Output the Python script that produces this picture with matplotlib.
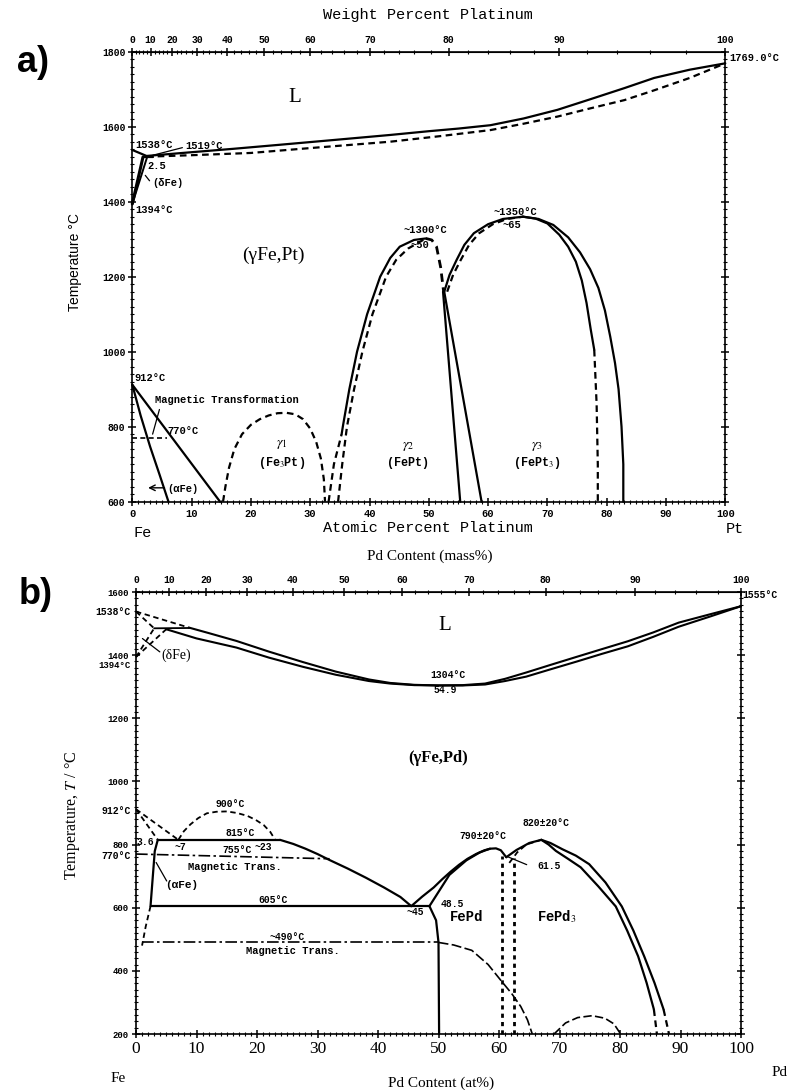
import numpy as np
import matplotlib.pyplot as plt
from matplotlib.ticker import MultipleLocator

plt.rcParams['mathtext.fontset'] = 'stix'

M_FE, M_PT, M_PD = 55.845, 195.08, 106.42

# ---------------- a) Fe-Pt ----------------
a_liq_x = [0, 2.4, 10, 17, 25, 35, 43.5, 50, 55, 60.4, 66, 71.7, 77, 83, 88, 94, 100]
a_liq_T = [1538, 1522, 1532, 1541, 1552, 1566, 1578, 1588, 1595, 1604, 1622, 1645, 1672, 1703, 1730, 1752, 1769]
a_sol_x = [2.4, 10, 20, 30, 43.5, 52, 60.4, 66, 71.7, 77, 83, 88, 94, 100]
a_sol_T = [1520, 1524, 1530, 1543, 1560, 1575, 1591, 1608, 1627, 1648, 1671, 1697, 1730, 1769]
a_delta1_x = [0, 1.8]
a_delta1_T = [1394, 1519]
a_delta2_x = [0, 2.5]
a_delta2_T = [1394, 1519]
a_perit_x = [1.8, 3.5]
a_perit_T = [1519, 1519]

a_alpha1_x = [0, 1.4, 3.0, 4.6, 6.1]
a_alpha1_T = [912, 830, 747, 672, 600]
a_alpha2_x = [0, 14.8]
a_alpha2_T = [912, 600]
a_mag_x = [0, 5.8]
a_mag_T = [770, 770]

a_g1_x = [15.3, 15.7, 16.3, 17.2, 18.5, 20, 21.5, 23, 24.5, 26, 27.5, 28.8, 30, 31, 31.8, 32.3, 32.5]
a_g1_T = [600, 640, 690, 740, 780, 805, 820, 830, 836, 837, 833, 820, 795, 760, 715, 660, 600]

a_g2_low_x = [33.1, 34.0, 35.3]
a_g2_low_T = [600, 700, 780]
a_g2_out_x = [35.3, 35.5, 36.6, 37.9, 39.6, 41.8, 43.5, 45.1, 47.5, 49.5]
a_g2_out_T = [780, 800, 900, 1000, 1100, 1200, 1250, 1280, 1298, 1302]
a_g2_in_x = [34.7, 35.4, 36.2, 37.4, 38.8, 40.5, 42.8, 44.5, 46.5, 49.5]
a_g2_in_T = [600, 700, 800, 900, 1000, 1100, 1200, 1245, 1275, 1302]
a_g2_top_x = [49.5, 50.5, 51.3, 52.0, 52.5]
a_g2_top_T = [1302, 1298, 1280, 1225, 1160]
a_g2_right_x = [52.4, 55.3]
a_g2_right_T = [1160, 600]
a_g3_foot_x = [52.6, 58.9]
a_g3_foot_T = [1160, 600]

a_g3_left_x = [52.6, 53.5, 54.7, 56.0, 57.6, 60.0, 62.5, 65.9]
a_g3_left_T = [1160, 1205, 1245, 1285, 1316, 1340, 1354, 1360]
a_g3_leftd_x = [53.1, 54.1, 55.4, 56.8, 58.5, 60.8, 63.2, 65.9]
a_g3_leftd_T = [1160, 1205, 1245, 1285, 1316, 1340, 1354, 1360]
a_g3_out_x = [65.9, 68.5, 71.0, 73.5, 75.5, 77.2, 78.6, 79.7, 80.6, 81.4, 82.0, 82.5, 82.8, 82.8]
a_g3_out_T = [1360, 1354, 1338, 1305, 1265, 1220, 1170, 1110, 1040, 970, 900, 800, 700, 600]
a_g3_in_x = [65.9, 68.0, 70.0, 72.0, 73.5, 74.8, 75.8, 76.6, 77.3, 77.9]
a_g3_in_T = [1360, 1355, 1342, 1312, 1280, 1240, 1190, 1130, 1060, 1005]
a_g3_ind_x = [77.9, 78.3, 78.5, 78.5]
a_g3_ind_T = [1005, 860, 700, 600]

# ---------------- b) Fe-Pd ----------------
b_liq_x = [8.8, 12, 16.6, 22, 27.6, 33, 38.5, 42, 46, 50, 54, 57.7, 61, 64.5, 68.5, 72.9, 77, 81.3, 85.5, 89.7, 95, 100]
b_liq_T = [1487, 1470, 1445, 1411, 1378, 1348, 1323, 1312, 1306, 1304, 1305, 1310, 1325, 1345, 1369, 1395, 1419, 1444, 1472, 1503, 1530, 1555]
b_sol_x = [5.0, 10, 16.6, 22, 27.6, 33, 38.5, 42, 46, 50, 54, 57.7, 61, 64.5, 68.5, 72.9, 77, 81.3, 85.5, 89.7, 95, 100]
b_sol_T = [1482, 1453, 1424, 1392, 1363, 1338, 1318, 1310, 1305, 1304, 1304, 1307, 1318, 1332, 1355, 1380, 1404, 1428, 1458, 1490, 1523, 1555]
b_dliq_x = [0, 8.8]
b_dliq_T = [1538, 1487]
b_dsol_x = [0, 3.0]
b_dsol_T = [1538, 1485]
b_dg1_x = [0, 3.0]
b_dg1_T = [1394, 1485]
b_dg2_x = [0, 5.0]
b_dg2_T = [1394, 1482]
b_perit_x = [3.0, 8.8]
b_perit_T = [1485, 1486]

b_a1_x = [0, 3.6]
b_a1_T = [912, 815]
b_a2_x = [0, 7.0]
b_a2_T = [912, 815]
b_asolv_x = [3.6, 3.1, 2.4]
b_asolv_T = [815, 779, 605]
b_asolvd_x = [2.4, 1.6, 1.0]
b_asolvd_T = [605, 540, 480]
b_dome_x = [7.0, 7.9, 9.0, 10.3, 11.7, 13.3, 15.0, 16.7, 18.4, 19.8, 21.1, 22.2, 23.0]
b_dome_T = [815, 842, 864, 884, 899, 904, 905, 900, 891, 878, 862, 840, 815]
b_815_x = [3.6, 23.8]
b_815_T = [815, 815]
b_mag1_x = [0, 32]
b_mag1_T = [770, 755]
b_gam_x = [23.8, 26, 28, 30, 32, 35, 38, 41, 43.7, 45.5]
b_gam_T = [815, 802, 787, 770, 751, 724, 695, 664, 634, 605]
b_605_x = [2.4, 48.5]
b_605_T = [605, 605]
b_fepd_low_x = [48.5, 49.6, 50.0, 50.1]
b_fepd_low_T = [605, 560, 490, 200]
b_mag2_x = [1.0, 50.0]
b_mag2_T = [490, 490]
b_mag2c_x = [50.0, 52.5, 55.5, 58.2, 60.3, 62.1, 63.6, 64.7, 65.5]
b_mag2c_T = [490, 482, 465, 420, 370, 328, 287, 245, 200]
b_fepd_out_x = [45.5, 47.3, 49.2, 50.6, 52.0, 53.4, 54.8, 56.2, 57.6, 58.6, 59.5, 60.3, 61.2]
b_fepd_out_T = [605, 635, 664, 690, 714, 736, 755, 770, 782, 787, 788, 782, 760]
b_fepd_in_x = [48.5, 49.0, 50.1, 51.8, 54.6, 56.8, 58.5]
b_fepd_in_T = [605, 620, 653, 704, 750, 775, 787]
b_v1_x = [60.5, 60.5]
b_v1_T = [200, 765]
b_v2_x = [62.5, 62.5]
b_v2_T = [200, 758]
b_fepd3_ls_x = [61.2, 62.9, 65.0, 67.0]
b_fepd3_ls_T = [760, 783, 805, 815]
b_fepd3_ld_x = [61.7, 63.0, 64.5, 67.0]
b_fepd3_ld_T = [742, 775, 800, 815]
b_fepd3_out_x = [67.0, 68.5, 70.5, 72.7, 74.9, 77.6, 80.3, 82.2, 84.0, 85.7, 87.2]
b_fepd3_out_T = [815, 805, 785, 765, 738, 680, 604, 528, 446, 362, 278]
b_fepd3_outd_x = [87.2, 88.1]
b_fepd3_outd_T = [278, 200]
b_fepd3_in_x = [67.0, 68.2, 69.4, 71.4, 73.5, 76.4, 79.3, 81.2, 83.0, 84.4, 85.6]
b_fepd3_in_T = [815, 800, 780, 755, 728, 668, 604, 527, 446, 362, 278]
b_fepd3_ind_x = [85.6, 86.1]
b_fepd3_ind_T = [278, 200]
b_small_x = [69.1, 71, 73, 75.4, 77.5, 79, 80.1]
b_small_T = [200, 235, 252, 258, 250, 232, 200]

W, H = 788, 1090
MONO, SERIF, SANS = 'Liberation Mono', 'Liberation Serif', 'Liberation Sans'
DASH = (0, (3, 2))
DASHDOT = (0, (7, 2, 1.5, 2))
DOT = (0, (1.5, 1.5))


def fp(x, y):
    return x / W, 1 - y / H


def line(ax, x, y, ls='-', lw=1.6):
    ax.plot(x, y, color='k', ls=ls, lw=lw, clip_on=False,
            solid_capstyle='round', solid_joinstyle='round')


def txt(x, y, s, size=7.5, family=MONO, weight='bold', ha='center', **kw):
    fig.text(*fp(x, y), s, fontsize=size, family=family, fontweight=weight,
             ha=ha, va='center', **kw)


def at2wt(m):
    def f(a):
        a = np.clip(a, 0, 100)
        return 100 * a * m / (a * m + (100 - a) * M_FE)
    return f


def wt2at(m):
    def f(w):
        w = np.clip(w, 0, 100)
        return 100 * (w / m) / (w / m + (100 - w) / M_FE)
    return f


def style_axes(ax, m, lab_size, bot_font, bot_size):
    ax.set_xlim(0, 100)
    ax.xaxis.set_major_locator(MultipleLocator(10))
    ax.xaxis.set_minor_locator(MultipleLocator(1))
    ax.yaxis.set_major_locator(MultipleLocator(200))
    ax.yaxis.set_minor_locator(MultipleLocator(20))
    ax.tick_params(which='major', direction='inout', length=6, width=1.1,
                   left=True, right=True, bottom=True, top=False, pad=2)
    ax.tick_params(which='minor', direction='inout', length=3, width=0.8,
                   left=True, right=True, bottom=True, top=False)
    for lb in ax.get_yticklabels():
        lb.set_fontfamily(MONO)
        lb.set_fontsize(lab_size)
        lb.set_fontweight('bold')
    for lb in ax.get_xticklabels():
        lb.set_fontfamily(bot_font)
        lb.set_fontsize(bot_size)
        lb.set_fontweight('bold' if bot_font == MONO else 'normal')
    for sp in ax.spines.values():
        sp.set_linewidth(1.2)
    sec = ax.secondary_xaxis('top', functions=(at2wt(m), wt2at(m)))
    sec.set_xticks(np.arange(0, 101, 10))
    sec.xaxis.set_minor_locator(MultipleLocator(2))
    sec.tick_params(which='major', direction='inout', length=6, width=1.1, pad=2)
    sec.tick_params(which='minor', direction='inout', length=3, width=0.8)
    for lb in sec.get_xticklabels():
        lb.set_fontfamily(MONO)
        lb.set_fontsize(7)
        lb.set_fontweight('bold')
    return sec


fig = plt.figure(figsize=(7.88, 10.9), dpi=100)

# ---------- panel a ----------
axa = fig.add_axes([132.3 / W, 1 - 501.7 / H, 593 / W, 450 / H])
axa.set_ylim(600, 1800)
style_axes(axa, M_PT, 7, MONO, 7.5)

line(axa, a_liq_x, a_liq_T)
line(axa, a_sol_x, a_sol_T, DASH)
line(axa, a_delta1_x, a_delta1_T, lw=2.2)
line(axa, a_delta2_x, a_delta2_T, lw=1.4)
line(axa, a_perit_x, a_perit_T)
line(axa, a_alpha1_x, a_alpha1_T)
line(axa, a_alpha2_x, a_alpha2_T)
line(axa, a_mag_x, a_mag_T, DASH, 1.2)
line(axa, a_g1_x, a_g1_T, DASH)
line(axa, a_g2_low_x, a_g2_low_T, DASH)
line(axa, a_g2_out_x, a_g2_out_T)
line(axa, a_g2_in_x, a_g2_in_T, DASH)
line(axa, a_g2_top_x, a_g2_top_T, DASH, 2.0)
line(axa, a_g2_right_x, a_g2_right_T)
line(axa, a_g3_foot_x, a_g3_foot_T)
line(axa, a_g3_left_x, a_g3_left_T)
line(axa, a_g3_leftd_x, a_g3_leftd_T, DASH)
line(axa, a_g3_out_x, a_g3_out_T)
line(axa, a_g3_in_x, a_g3_in_T)
line(axa, a_g3_ind_x, a_g3_ind_T, DASH)

thin = dict(arrowstyle='-', color='k', lw=0.9)
axa.annotate('', xy=(3.0, 1522), xytext=(8.9, 1546), arrowprops=thin)
axa.annotate('', xy=(1.9, 1476), xytext=(3.2, 1450), arrowprops=thin)
axa.annotate('', xy=(3.3, 773), xytext=(4.7, 853), arrowprops=thin)
axa.annotate('', xy=(2.2, 637), xytext=(5.9, 637),
             arrowprops=dict(arrowstyle='->', color='k', lw=1.0))

txt(33, 62, 'a)', size=26, family=SANS)
txt(428, 15, 'Weight Percent Platinum', size=11, weight='normal')
txt(428, 528, 'Atomic Percent Platinum', size=11, weight='normal')
txt(143, 533, 'Fe', size=11, weight='normal')
txt(735, 529, 'Pt', size=11, weight='normal')
txt(75, 262, 'Temperature °C', size=10, family=SANS, weight='normal', rotation=90)
txt(295, 98, 'L', size=15, family=SERIF, weight='normal')
txt(273, 255, '(γFe,Pt)', size=14, family=SERIF, weight='normal')
txt(135, 145, '1538°C', ha='left')
txt(185, 146, '1519°C', ha='left')
txt(147, 166, '2.5', ha='left')
txt(152, 183, '(δFe)', ha='left')
txt(135, 210, '1394°C', ha='left')
txt(729, 58, '1769.0°C', ha='left')
txt(425, 230, '~1300°C')
txt(420, 245, '~50')
txt(515, 212, '~1350°C')
txt(512, 225, '~65')
txt(134, 378, '912°C', ha='left')
txt(155, 400, 'Magnetic Transformation', size=7.5, ha='left')
txt(167, 431, '770°C', ha='left')
txt(167, 489, '(αFe)', ha='left')
txt(282, 444, r'$\gamma_1$', size=10)
txt(282, 463, r'(Fe$_3$Pt)', size=8.5)
txt(408, 446, r'$\gamma_2$', size=10)
txt(408, 463, '(FePt)', size=8.5)
txt(537, 446, r'$\gamma_3$', size=10)
txt(537, 463, r'(FePt$_3$)', size=8.5)

# ---------- panel b ----------
axb = fig.add_axes([136 / W, 1 - 1034 / H, 605 / W, 442 / H])
axb.set_ylim(200, 1600)
style_axes(axb, M_PD, 6.5, SERIF, 12.5)

line(axb, b_liq_x, b_liq_T, lw=1.5)
line(axb, b_sol_x, b_sol_T, lw=1.5)
line(axb, b_dliq_x, b_dliq_T, DASH, 1.3)
line(axb, b_dsol_x, b_dsol_T, DASH, 1.3)
line(axb, b_dg1_x, b_dg1_T, DASH, 1.3)
line(axb, b_dg2_x, b_dg2_T, DASH, 1.3)
line(axb, b_perit_x, b_perit_T, lw=1.3)
line(axb, b_a1_x, b_a1_T, DASH, 1.3)
line(axb, b_a2_x, b_a2_T, DASH, 1.3)
line(axb, b_asolv_x, b_asolv_T)
line(axb, b_asolvd_x, b_asolvd_T, DASH, 1.3)
line(axb, b_dome_x, b_dome_T, DASH, 1.3)
line(axb, b_815_x, b_815_T)
line(axb, b_mag1_x, b_mag1_T, DASHDOT, 1.2)
line(axb, b_gam_x, b_gam_T)
line(axb, b_605_x, b_605_T)
line(axb, b_fepd_low_x, b_fepd_low_T)
line(axb, b_mag2_x, b_mag2_T, DASHDOT, 1.2)
line(axb, b_mag2c_x, b_mag2c_T, (0, (6, 2)), 1.2)
line(axb, b_fepd_out_x, b_fepd_out_T)
line(axb, b_fepd_in_x, b_fepd_in_T)
line(axb, b_v1_x, b_v1_T, DOT, 2.0)
line(axb, b_v2_x, b_v2_T, DOT, 2.0)
line(axb, b_fepd3_ls_x, b_fepd3_ls_T)
line(axb, b_fepd3_ld_x, b_fepd3_ld_T, DASH, 1.3)
line(axb, b_fepd3_out_x, b_fepd3_out_T)
line(axb, b_fepd3_outd_x, b_fepd3_outd_T, DASH)
line(axb, b_fepd3_in_x, b_fepd3_in_T)
line(axb, b_fepd3_ind_x, b_fepd3_ind_T, DASH)
line(axb, b_small_x, b_small_T, (0, (5, 2)), 1.2)

axb.annotate('', xy=(0.7, 1458), xytext=(4.3, 1405), arrowprops=thin)
axb.annotate('', xy=(3.1, 751), xytext=(5.3, 677), arrowprops=thin)
axb.annotate('', xy=(61.0, 765), xytext=(65.0, 733), arrowprops=thin)

txt(36, 595, 'b)', size=26, family=SANS)
txt(430, 556, 'Pd Content (mass%)', size=11, family=SERIF, weight='normal')
txt(441, 1083, 'Pd Content (at%)', size=11, family=SERIF, weight='normal')
txt(118, 1079, 'Fe', size=11, family=SERIF, weight='normal')
txt(780, 1072, 'Pd', size=11, family=SERIF, weight='normal')
txt(72, 815, r'Temperature, $T$ / °C', size=11.5, family=SERIF, weight='normal', rotation=90)
txt(445, 625, 'L', size=15, family=SERIF, weight='normal')
txt(438, 758, '(γFe,Pd)', size=12, family=SERIF, weight='bold')
txt(448, 675, '1304°C', size=7)
txt(445, 690, '54.9', size=7)
txt(742, 595, '1555°C', size=7, ha='left')
txt(131, 612, '1538°C', size=7, ha='right')
txt(131, 666, '1394°C', size=6.5, ha='right')
txt(161, 655, '(δFe)', size=10, family=SERIF, weight='normal', ha='left')
txt(131, 811, '912°C', size=7, ha='right')
txt(131, 856, '770°C', size=7, ha='right')
txt(230, 804, '900°C', size=7)
txt(240, 833, '815°C', size=7)
txt(180, 847, '~7', size=7)
txt(263, 847, '~23', size=7)
txt(145, 842, '3.6', size=7)
txt(237, 850, '755°C', size=7)
txt(235, 867, 'Magnetic Trans.', size=7.5)
txt(165, 885, '(αFe)', size=8, ha='left')
txt(273, 900, '605°C', size=7)
txt(287, 937, '~490°C', size=7)
txt(293, 951, 'Magnetic Trans.', size=7.5)
txt(415, 912, '~45', size=7)
txt(441, 904, '48.5', size=7, ha='left')
txt(483, 836, '790±20°C', size=7)
txt(546, 823, '820±20°C', size=7)
txt(537, 866, '61.5', size=7, ha='left')
txt(467, 917, 'FePd', size=10)
txt(557, 917, r'FePd$_3$', size=10)

fig.savefig('out.png', dpi=100)
